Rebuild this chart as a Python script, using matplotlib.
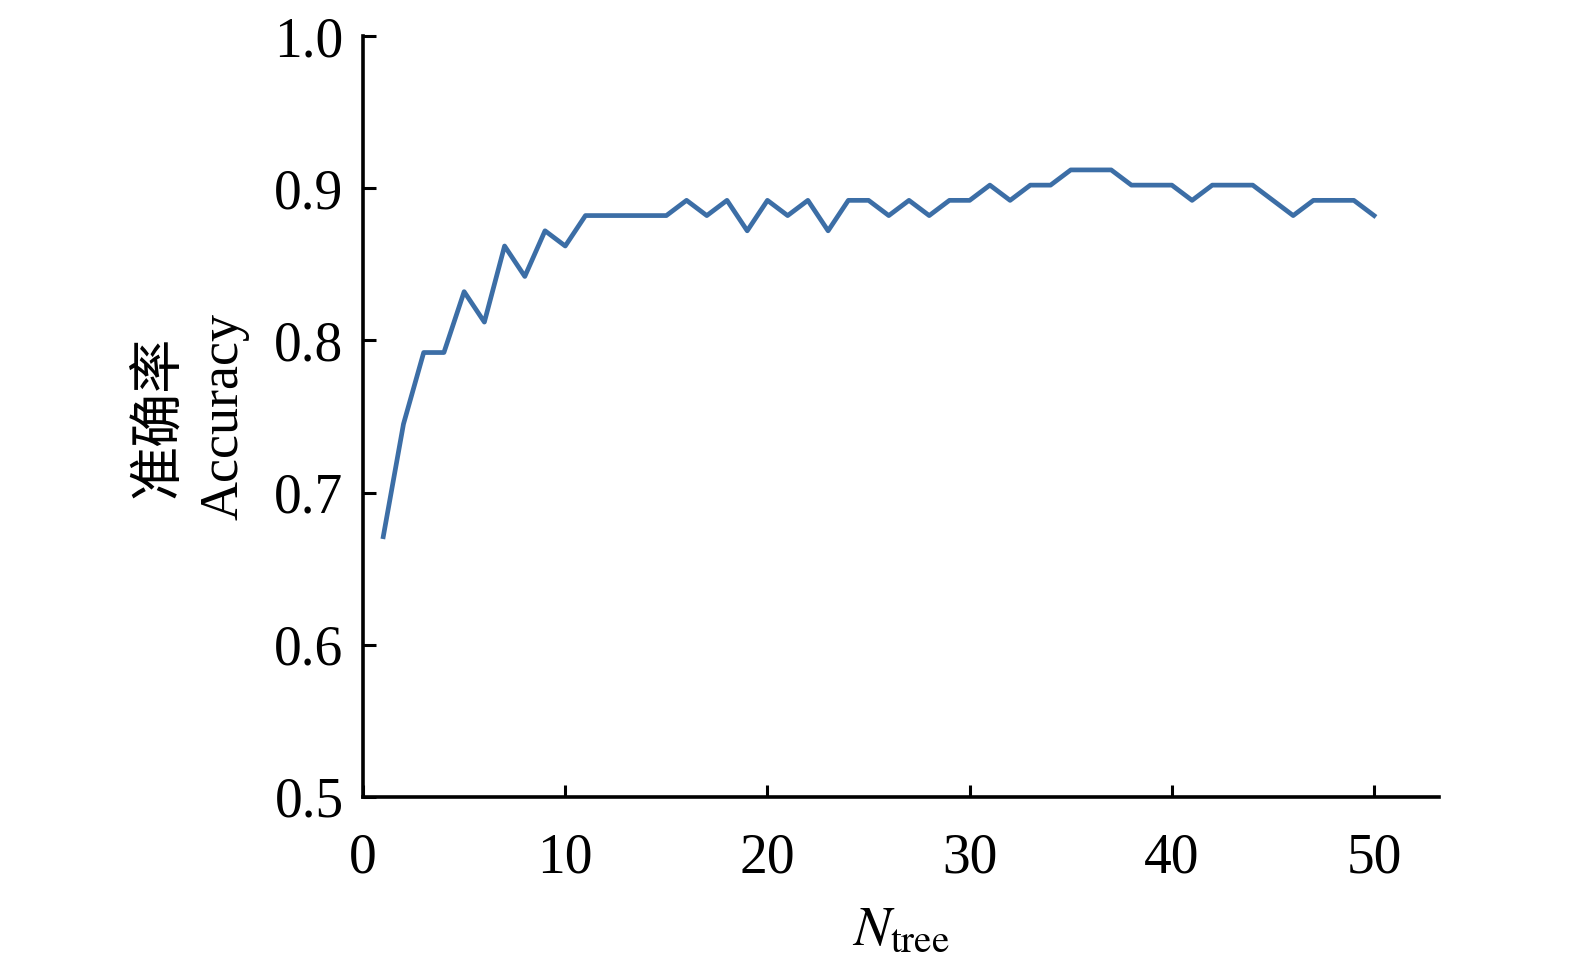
import matplotlib
matplotlib.use("Agg")
import matplotlib.pyplot as plt

# accuracy vs number of trees
n_tree = list(range(1, 51))
accuracy = [
    0.671, 0.745, 0.792, 0.792, 0.832, 0.812, 0.862, 0.842, 0.872, 0.862,
    0.882, 0.882, 0.882, 0.882, 0.882, 0.892, 0.882, 0.892, 0.872, 0.892,
    0.882, 0.892, 0.872, 0.892, 0.892, 0.882, 0.892, 0.882, 0.892, 0.892,
    0.902, 0.892, 0.902, 0.902, 0.912, 0.912, 0.912, 0.902, 0.902, 0.902,
    0.892, 0.902, 0.902, 0.902, 0.892, 0.882, 0.892, 0.892, 0.892, 0.882,
]
x_ticks = [0, 10, 20, 30, 40, 50]
y_ticks = [0.5, 0.6, 0.7, 0.8, 0.9, 1.0]

plt.rcParams["font.family"] = ["Liberation Serif", "Noto Sans CJK SC"]
plt.rcParams["mathtext.fontset"] = "stix"

fig = plt.figure(figsize=(15.75, 9.73), dpi=100)
ax = fig.add_axes([0.2305, 0.181, 0.683, 0.782])

ax.plot(n_tree, accuracy, color="#3c6ea6", lw=3.4)

ax.set_xlim(0, 53.2)
ax.set_ylim(0.5, 1.0)
ax.set_xticks(x_ticks)
ax.set_yticks(y_ticks)
ax.set_yticklabels([f"{v:.1f}" for v in y_ticks])

for side in ("top", "right"):
    ax.spines[side].set_visible(False)
for side in ("left", "bottom"):
    ax.spines[side].set_linewidth(2.6)
ax.tick_params(direction="in", length=9, width=2.2, labelsize=40)
ax.tick_params(axis="x", pad=26)
ax.tick_params(axis="y", pad=14)

ax.set_xlabel(r"$N_{\mathrm{tree}}$", fontsize=40, labelpad=14)
ax.set_ylabel("准确率\nAccuracy", fontsize=39, labelpad=18, linespacing=1.35)

fig.savefig("out.png", dpi=100)
